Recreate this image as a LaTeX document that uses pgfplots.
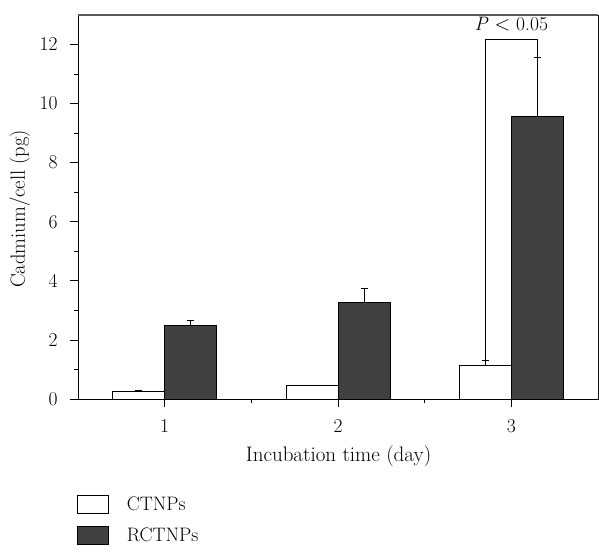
\documentclass[border=0pt]{standalone}
\usepackage{fontspec}
\usepackage{pgfplots}
\pgfplotsset{compat=1.18}
\definecolor{darkbar}{RGB}{64,64,64}
\definecolor{framegray}{RGB}{90,90,90}
\newcommand{\bigf}{\fontsize{19.5}{22}\selectfont}
\begin{document}
\begin{tikzpicture}
\useasboundingbox (-78pt,-152pt) rectangle (521pt,399pt);
\begin{axis}[
  scale only axis,
  width=520pt, height=384pt,
  xmin=0.5, xmax=3.5, ymin=0, ymax=13,
  xtick={1,2,3}, minor xtick={1.5,2.5},
  ytick={0,2,4,6,8,10,12}, minor ytick={1,3,5,7,9,11},
  tick align=outside,
  xtick pos=bottom, ytick pos=left,
  major tick length=8pt, minor tick length=4pt,
  every tick/.style={black, line width=0.8pt},
  axis line style={line width=0.9pt},
  /pgf/number format/assume math mode=true,
  tick label style={font=\bigf},
  yticklabel style={xshift=-9pt},
  xticklabel style={yshift=-9pt},
  xlabel={Incubation time (day)},
  ylabel={Cadmium/cell (pg)},
  xlabel style={font=\fontsize{21}{24}\selectfont, at={(axis description cs:0.501,-0.148)}, anchor=center},
  ylabel style={font=\fontsize{20.5}{24}\selectfont, at={(axis description cs:-0.112,0.495)}, anchor=center},
  ybar, bar width=0.3,
  legend style={draw=none, fill=none, at={(axis description cs:-0.002,-0.25)}, anchor=north west,
    font=\bigf, row sep=12pt, inner sep=0pt, nodes={inner xsep=18pt, inner ysep=0pt}},
  legend cell align=left,
  legend image code/.code={\draw[#1, line width=0.7pt] (0pt,-9pt) rectangle (31pt,9pt);},
]
\addplot[fill=white, draw=black, line width=0.7pt, bar shift=-0.15,
  error bars/.cd, y dir=plus, y explicit, error mark options={rotate=90, line width=0.7pt, mark size=3.5pt},
  error bar style={line width=0.7pt}]
  coordinates {(1,0.25) +- (0,0.03) (2,0.45) +- (0,0.02) (3,1.13) +- (0,0.17)};
\addplot[fill=darkbar, draw=black, line width=0.7pt, bar shift=0.15,
  error bars/.cd, y dir=plus, y explicit, error mark options={rotate=90, line width=0.7pt, mark size=3.5pt},
  error bar style={line width=0.7pt}]
  coordinates {(1,2.48) +- (0,0.19) (2,3.27) +- (0,0.46) (3,9.58) +- (0,1.98)};
\legend{CTNPs, RCTNPs}
\draw[line width=0.7pt] (axis cs:2.85,1.30) -- (axis cs:2.85,12.17) -- (axis cs:3.15,12.17) -- (axis cs:3.15,9.58);
\node[font=\bigf] at (axis cs:3.0,12.68) {\textit{P} $<$ 0.05};
\draw[framegray, line width=1.3pt] (rel axis cs:0,1) -- (rel axis cs:1,1);
\draw[framegray!60, line width=0.6pt] (rel axis cs:1,0) -- (rel axis cs:1,1);
\end{axis}
\end{tikzpicture}
\end{document}
